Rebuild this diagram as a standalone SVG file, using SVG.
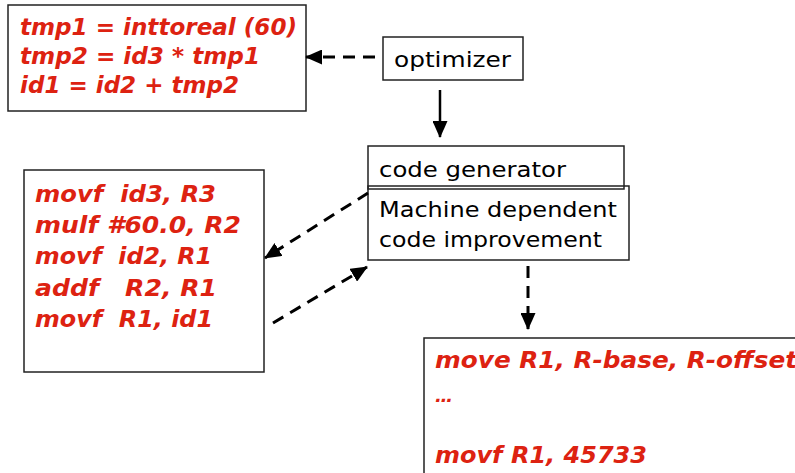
<svg xmlns="http://www.w3.org/2000/svg" width="795" height="473" viewBox="0 0 795 473">
<style>
.box{fill:#fff;stroke:#222;stroke-width:1.5}
.red{font-family:"DejaVu Sans","Liberation Sans",sans-serif;font-weight:bold;font-style:italic;font-size:23px;fill:#dd2211;white-space:pre}
.blk{font-family:"DejaVu Sans","Liberation Sans",sans-serif;font-size:22px;fill:#000}
.dash{stroke:#000;stroke-width:3;stroke-dasharray:12 8;fill:none}
.solid{stroke:#000;stroke-width:2.5;fill:none}
</style>
<defs>
<marker id="ah" markerUnits="userSpaceOnUse" markerWidth="17" markerHeight="15" refX="16" refY="7.5" orient="auto">
<path d="M0,0 L17,7.5 L0,15 Z" fill="#000"/>
</marker>
</defs>
<rect width="795" height="473" fill="#fff"/>
<g id="n_ir">
<rect class="box" x="8" y="5" width="298" height="106"/>
<text class="red" x="20" y="35" textLength="277" lengthAdjust="spacingAndGlyphs">tmp1 = inttoreal (60)</text>
<text class="red" x="20" y="64" textLength="240" lengthAdjust="spacingAndGlyphs">tmp2 = id3 * tmp1</text>
<text class="red" x="20" y="93" textLength="219" lengthAdjust="spacingAndGlyphs">id1 = id2 + tmp2</text>
</g>
<g id="n_opt">
<rect class="box" x="383" y="37" width="140" height="43"/>
<text class="blk" x="394" y="67" textLength="117" lengthAdjust="spacingAndGlyphs">optimizer</text>
</g>
<g id="n_cg">
<rect class="box" x="368" y="146" width="256" height="43"/>
<text class="blk" x="379" y="177" textLength="187" lengthAdjust="spacingAndGlyphs">code generator</text>
</g>
<g id="n_mdci">
<rect class="box" x="368" y="186" width="261" height="74" style="fill:none"/>
<text class="blk" x="379" y="217" textLength="238" lengthAdjust="spacingAndGlyphs">Machine dependent</text>
<text class="blk" x="379" y="247" textLength="223" lengthAdjust="spacingAndGlyphs">code improvement</text>
</g>
<g id="n_asm">
<rect class="box" x="24" y="170" width="240" height="202"/>
<text class="red" x="35" y="202" textLength="181" lengthAdjust="spacingAndGlyphs">movf  id3, R3</text>
<text class="red" x="35" y="233" textLength="206" lengthAdjust="spacingAndGlyphs">mulf #60.0, R2</text>
<text class="red" x="35" y="264" textLength="177" lengthAdjust="spacingAndGlyphs">movf  id2, R1</text>
<text class="red" x="35" y="296" textLength="182" lengthAdjust="spacingAndGlyphs">addf   R2, R1</text>
<text class="red" x="35" y="327" textLength="178" lengthAdjust="spacingAndGlyphs">movf  R1, id1</text>
</g>
<g id="n_out">
<rect class="box" x="424" y="338" width="380" height="150"/>
<text class="red" x="435" y="368" textLength="362" lengthAdjust="spacingAndGlyphs">move R1, R-base, R-offset</text>
<text class="red" x="435" y="402" style="font-size:18px">…</text>
<text class="red" x="435" y="463" textLength="212" lengthAdjust="spacingAndGlyphs">movf R1, 45733</text>
</g>
<g id="connectors">
<line class="dash" x1="375" y1="57" x2="306" y2="57" marker-end="url(#ah)"/>
<line class="solid" x1="440" y1="90" x2="440" y2="137" marker-end="url(#ah)"/>
<line class="dash" x1="368" y1="193" x2="265" y2="258" marker-end="url(#ah)"/>
<line class="dash" x1="273" y1="323" x2="367" y2="267" marker-end="url(#ah)"/>
<line class="dash" x1="528" y1="266" x2="528" y2="329" marker-end="url(#ah)"/>
</g>
</svg>
